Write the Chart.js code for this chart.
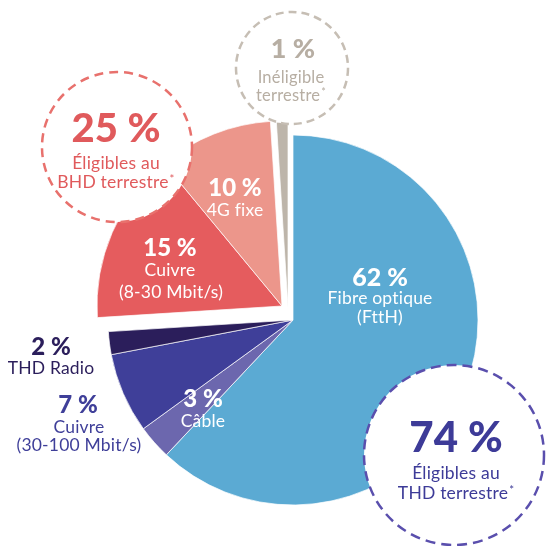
<!DOCTYPE html>
<html lang="fr">
<head>
<meta charset="utf-8">
<script src="https://cdn.jsdelivr.net/npm/chart.js@4.4.1/dist/chart.umd.min.js"></script>
<style>
  body { margin: 0; background: #fff; }
  #wrap { position: relative; width: 552px; height: 546px; overflow: hidden; font-family: Lato, "Open Sans", sans-serif; }
  #wrap canvas { position: absolute; }
  #rings { position: absolute; left: 0; top: 0; }
  .lbl { position: absolute; transform: translate(-50%, -50%); white-space: nowrap; line-height: 1; text-align: center; font-weight: 400; letter-spacing: 0.2px; }
  .big { font-weight: 900; letter-spacing: 0; }
  sup { font-size: 0.65em; vertical-align: 0.45em; margin-left: 1px; }
</style>
</head>
<body>
<div id="wrap">
  <canvas id="pieA" width="420" height="420" style="left:83px;top:110px"></canvas>
  <canvas id="pieB" width="420" height="420" style="left:72px;top:96px"></canvas>
  <canvas id="pieC" width="420" height="420" style="left:78px;top:97px"></canvas>
  <svg id="rings" width="552" height="546">
    <circle cx="117" cy="147" r="75" fill="#fff" stroke="#E8716D" stroke-width="2.5" stroke-dasharray="9 6"/>
    <circle cx="292" cy="68" r="56" fill="#fff" stroke="#C6BEB4" stroke-width="2.5" stroke-dasharray="8 5"/>
    <circle cx="454" cy="455" r="90" fill="#fff" stroke="#5A4FAD" stroke-width="2.5" stroke-dasharray="10 6"/>
  </svg>
</div>
<script>
// ===================== DONNEES =====================
const categories = ["Fibre optique (FttH)", "Câble", "Cuivre (30-100 Mbit/s)", "THD Radio", "Cuivre (8-30 Mbit/s)", "4G fixe", "Inéligible terrestre"];
const values = [62, 3, 7, 2, 15, 10, 1];
const colors = ["#5BAAD3", "#6C67AE", "#3F3F99", "#2B1E5B", "#E55C5E", "#EC968B", "#BDB5AA"];

// groupes (THD / BHD / inéligible)
const groupNames = ["Éligibles au THD terrestre", "Éligibles au BHD terrestre", "Inéligible terrestre"];
const groupValues = [74, 25, 1];

// ===================== PIES =====================
function makePie(id, shown) {
  new Chart(document.getElementById(id), {
    type: "pie",
    data: {
      labels: categories,
      datasets: [{
        data: values,
        backgroundColor: colors.map((c, i) => shown.includes(i) ? c : "rgba(0,0,0,0)"),
        borderColor: "rgba(255,255,255,0.7)",
        borderWidth: values.map((v, i) => shown.includes(i) ? 1 : 0),
      }],
    },
    options: {
      responsive: false,
      animation: false,
      events: [],
      radius: 185,
      layout: { padding: 0 },
      plugins: { legend: { display: false }, tooltip: { enabled: false } },
    },
  });
}

makePie("pieA", [0, 1, 2, 3]);
makePie("pieB", [4, 5]);
makePie("pieC", [6]);

// ===================== LABELS =====================
const wrap = document.getElementById("wrap");

function addText(x, y, html, size, color, big) {
  const d = document.createElement("div");
  d.className = "lbl" + (big ? " big" : "");
  d.style.left = x + "px";
  d.style.top = y + "px";
  d.style.fontSize = size + "px";
  d.style.color = color;
  d.innerHTML = html;
  wrap.appendChild(d);
}

const pct = v => v + " %";
const star = "<sup>*</sup>";

// parts
addText(380, 276, pct(values[0]), 25, "#fff", true);
addText(380, 298, "Fibre optique", 17.5, "#fff");
addText(380, 317, "(FttH)", 17.5, "#fff");

addText(203, 398, pct(values[1]), 24, "#fff", true);
addText(203, 421, "Câble", 17.5, "#fff");

addText(78, 404, pct(values[2]), 24, "#3F3F99", true);
addText(79, 427, "Cuivre", 17.5, "#3F3F99");
addText(79, 445, "(30-100 Mbit/s)", 17.5, "#3F3F99");

addText(51, 346, pct(values[3]), 24, "#2B1E5B", true);
addText(51, 368, "THD Radio", 17.5, "#2B1E5B");

addText(170, 247, pct(values[4]), 24, "#fff", true);
addText(170, 270, "Cuivre", 17.5, "#fff");
addText(171, 292, "(8-30 Mbit/s)", 17.5, "#fff");

addText(235, 187, pct(values[5]), 24, "#fff", true);
addText(235, 210, "4G fixe", 17.5, "#fff");

// groupes
addText(456, 436, pct(groupValues[0]), 42, "#3D3B98", true);
addText(456, 473, "Éligibles au", 17.5, "#3D3B98");
addText(456, 493, "THD terrestre" + star, 17.5, "#3D3B98");

addText(116, 127, pct(groupValues[1]), 40, "#E05A5C", true);
addText(116, 163, "Éligibles au", 17.5, "#E05A5C");
addText(116, 182, "BHD terrestre" + star, 17.5, "#E05A5C");

addText(293, 47, pct(groupValues[2]), 27, "#B7AEA3", true);
addText(291, 77, "Inéligible", 16.5, "#B7AEA3");
addText(291, 95, "terrestre" + star, 16.5, "#B7AEA3");
</script>
</body>
</html>
